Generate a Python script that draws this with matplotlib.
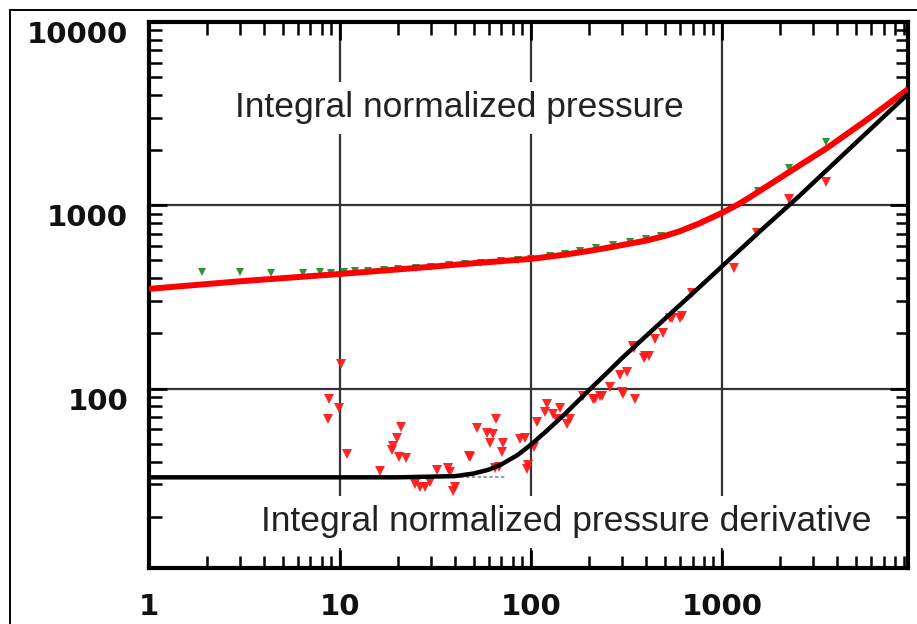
import matplotlib
matplotlib.use("Agg")
import matplotlib.pyplot as plt
from matplotlib.patches import Rectangle
from matplotlib.transforms import ScaledTranslation
from matplotlib.ticker import LogLocator, NullFormatter, FixedLocator, FixedFormatter

# ---------------------------------------------------------------------------
# Data
# ---------------------------------------------------------------------------
# model curve: integral normalized pressure (red line)
press_model_t = [1, 3, 10, 30, 50, 100, 150, 200, 250, 300, 400, 500, 600, 767, 1000, 1200,
                 1403, 2000, 2270, 3530, 5710, 9400]
press_model_v = [350, 385, 422, 462, 483, 510, 538, 563, 586, 607, 642, 680, 722, 800, 910, 1005,
                 1110, 1405, 1530, 2050, 2920, 4300]

# model curve: integral normalized pressure derivative (black line)
deriv_model_t = [1, 20, 40, 50, 60, 70, 85, 100, 120, 150, 175, 204, 250, 300, 457, 700,
                 1000, 1645, 2455, 4680, 9400]
deriv_model_v = [32.8, 32.8, 33.3, 34.4, 36.1, 38.6, 43.4, 49.5, 58.5, 72.5, 85, 99.5,
                 122, 147, 220, 330, 465, 750, 1090, 2050, 4050]

# flat-line reference (grey dashes)
ref_t = [30, 73]
ref_v = [32.8, 32.8]

# measured integral normalized pressure (green triangles)
press_t = [1.9, 3.0, 4.35, 6.4, 7.9, 9, 10.5, 12, 14, 17, 20, 25, 30, 37, 45, 55, 70, 85,
           100, 125, 150, 180, 220, 270, 330, 400, 480, 1540, 2250, 3510]
press_v = [430, 430, 426, 428, 430, 428, 432, 436, 440, 446, 450, 457, 463, 470, 477, 485, 495, 503,
           512, 526, 542, 560, 582, 606, 628, 652, 682, 1190, 1600, 2210]

# measured integral normalized pressure derivative (red triangles)
deriv_t = [8.8, 8.7, 9.9, 10.1, 10.9, 16.2, 18.6, 19.0, 19.8, 20.9, 20.4, 22.2, 24.7, 26.2, 27.9,
           29.6, 32.1, 36.9, 37.7, 40, 39.2, 47.5, 52, 65.6, 58.6, 63.5, 61, 71.6, 70.3, 48,
           64.8, 68, 87.5, 93, 103, 96.8, 95.6, 107, 118, 121, 131, 142, 136, 154, 160,
           188, 216, 235, 259, 304, 350, 343, 395, 317, 292, 298, 230, 212, 493, 545, 603,
           446, 390, 346, 415, 694, 535, 615, 1156, 1520, 2250, 3510]
deriv_v = [88, 68, 78, 137, 43.7, 35.5, 46.5, 48.4, 54, 62, 42.4, 42, 30.3, 29.1, 29.1,
           30.9, 35.8, 37.1, 35.1, 29.1, 27.7, 42.7, 60.8, 68.4, 57.4, 56.7, 50.2, 50.2, 45.1, 42.3,
           37.1, 37.5, 53.3, 54, 48, 38.2, 36.6, 65.6, 74.3, 82.6, 72.8, 77.9, 68.4, 64.3, 68.4,
           91.6, 88, 91.6, 101.6, 93.6, 88, 171, 151, 123, 118, 95.5, 91.6, 88, 202, 244, 244,
           186, 147, 167, 151, 333, 244, 250, 456, 707, 1087, 1334]

x_ticks = [1, 10, 100, 1000]
x_labels = ["1", "10", "100", "1000"]
y_ticks = [100, 1000, 10000]
y_labels = ["100", "1000", "10000"]


def main():
    W, H = 917, 624
    fig = plt.figure(figsize=(W / 100, H / 100), dpi=100)
    ax = fig.add_axes([149 / W, 1 - 568 / H, (908 - 149) / W, (568 - 22) / H])

    # outer frame around the picture
    fig.add_artist(Rectangle((9.5 / W, -0.2), 1.2, 1.2 - 9.5 / H, transform=fig.transFigure,
                             fill=False, edgecolor="black", linewidth=1.4))

    ax.plot(press_t, press_v, linestyle="none", marker="v", markersize=5.5,
            color="#2e9438", markeredgewidth=0, zorder=3)
    ax.plot(deriv_t, deriv_v, linestyle="none", marker="v", markersize=7,
            color="#ff1a1a", markeredgewidth=0, alpha=0.95, zorder=3)
    ax.plot(ref_t, ref_v, color="#888888", linestyle=(0, (2, 1.5)), linewidth=1.2, zorder=3)
    ax.plot(press_model_t, press_model_v, color="#ff0000", linewidth=4.3,
            solid_capstyle="butt", solid_joinstyle="round", zorder=4)
    ax.plot(deriv_model_t, deriv_model_v, color="black", linewidth=3.2,
            solid_capstyle="butt", solid_joinstyle="round", zorder=5)

    ax.set_xscale("log")
    ax.set_yscale("log")
    ax.set_xlim(1, 9400)
    ax.set_ylim(10.5, 10000)

    ax.xaxis.set_major_locator(FixedLocator(x_ticks))
    ax.xaxis.set_major_formatter(FixedFormatter(x_labels))
    ax.yaxis.set_major_locator(FixedLocator(y_ticks))
    ax.yaxis.set_major_formatter(FixedFormatter(y_labels))
    ax.xaxis.set_minor_locator(LogLocator(base=10, subs=range(2, 10), numticks=20))
    ax.yaxis.set_minor_locator(LogLocator(base=10, subs=range(2, 10), numticks=20))
    ax.xaxis.set_minor_formatter(NullFormatter())
    ax.yaxis.set_minor_formatter(NullFormatter())

    ax.grid(True, which="major", color="#333333", linewidth=1.6, zorder=1)
    ax.set_axisbelow(True)

    ax.tick_params(which="both", direction="in", top=True, right=True, color="black")
    ax.tick_params(which="major", length=13, width=2)
    ax.tick_params(which="minor", length=9, width=1.8)
    ax.tick_params(axis="x", which="major", pad=18, labelsize=21)
    ax.tick_params(axis="y", which="major", pad=15, labelsize=21)
    for lab in ax.get_xticklabels() + ax.get_yticklabels():
        lab.set_fontweight("bold")
        lab.set_family("DejaVu Sans")
        lab.set_color("#111111")
    for lab in ax.get_yticklabels():
        lab.set_transform(lab.get_transform() + ScaledTranslation(0, -0.10, fig.dpi_scale_trans))

    for side in ["left", "right", "top", "bottom"]:
        ax.spines[side].set_linewidth(3)

    box = dict(facecolor="white", edgecolor="none", pad=7)
    ax.text(459 / W, 1 - 108 / H, "Integral normalized pressure", fontsize=25.5,
            color="#222222", family="Liberation Sans", ha="center", va="center",
            bbox=box, zorder=6, transform=fig.transFigure)
    ax.text(566 / W, 1 - 522 / H, "Integral normalized pressure derivative", fontsize=25.5,
            color="#222222", family="Liberation Sans", ha="center", va="center",
            bbox=box, zorder=6, transform=fig.transFigure)

    fig.savefig("out.png", dpi=100)


if __name__ == '__main__':
    main()
